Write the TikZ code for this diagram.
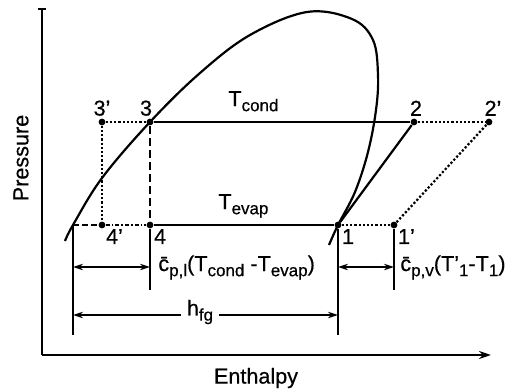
\documentclass[tikz,border=0pt]{standalone}
\usepackage{fontspec}
\setmainfont[FakeBold=0.5]{Liberation Sans}
\usetikzlibrary{arrows.meta}
\newcommand{\sbs}[1]{\raisebox{-2.6pt}{\fontsize{8.5}{9}\selectfont #1}}

\begin{document}
\begin{tikzpicture}[x=0.5pt, y=-0.5pt, font=\fontsize{10.8}{12}\selectfont,
    state/.style={circle, fill, inner sep=0pt, minimum size=3.4pt},
    lbl/.style={inner sep=1pt},
    main/.style={line width=1.1pt},
    dots/.style={line width=1.1pt, densely dotted},
    ext/.style={line width=0.8pt},
    dim/.style={ext, {Stealth[length=5pt,width=3.2pt]}-{Stealth[length=5pt,width=3.2pt]}},
    half/.style={ext, -{Stealth[length=5pt,width=3.2pt]}}]
  \useasboundingbox (0,0) rectangle (516,392);
  % axes
  \coordinate (o) at (42,355);
  \coordinate (ytop) at (42,9);
  \coordinate (xend) at (491,355);
  \draw[main] (ytop) -- (o);
  \draw[main, -{Stealth[length=6pt,width=4pt]}] (o) -- (xend);
  \draw[main] ([xshift=-1.8pt]ytop) -- ([xshift=1.8pt]ytop);
  \node[rotate=90] (ylab) at (21,158) {Pressure};
  \node (xlab) at (256,378) {Enthalpy};
  % saturation dome
  \draw[main] plot[smooth, tension=0.6] coordinates {(65,241) (73,225) (102,178)
    (150,122) (200,73) (250,35) (307,12) (352,19) (373,40) (378,75) (376,110)
    (368,152) (355,192) (338,225) (329,245)};
  % state points
  \coordinate (l) at (73,225);
  \node[state, label={[lbl]above:3'}] (p3a) at (102,122) {};
  \node[state, label={[lbl, xshift=-2pt]above:3}] (p3) at (150,122) {};
  \node[state, label={[lbl, xshift=1pt]above:2}] (p2) at (414,122) {};
  \node[state, label={[lbl, xshift=2pt]above:2'}] (p2a) at (489,122) {};
  \node[state, label={[lbl, inner sep=0.5pt]below right:4'}] (p4a) at (102,225) {};
  \node[state, label={[lbl, inner sep=0.5pt]below right:4}] (p4) at (150,225) {};
  \node[state, label={[lbl, inner sep=0.5pt]below right:1}] (p1) at (338,225) {};
  \node[state, label={[lbl, inner sep=0.5pt]below right:1'}] (p1a) at (394,225) {};
  % cycle
  \draw[main] (p3) -- (p2);
  \draw[main] (p4) -- (p1);
  \draw[main] (p1) -- (p2);
  \draw[line width=1.3pt, dash pattern=on 4pt off 2pt] (p3) -- (p4);
  \draw[dots] (p3a) -- (p3);
  \draw[dots] (p2) -- (p2a);
  \draw[dots] (p3a) -- (p4a);
  \draw[dots] (p1) -- (p1a);
  \draw[dots] (p1a) -- (p2a);
  \draw[line width=1.1pt, dash pattern=on 3pt off 1.5pt] (l) -- (p4a);
  \draw[line width=1.1pt, dash pattern=on 2pt off 1pt on 0.8pt off 1pt] (p4a) -- (p4);
  \node[anchor=base west, inner sep=0pt] (tc) at (228,106) {T\sbs{cond}};
  \node[anchor=base west, inner sep=0pt] (te) at (218,209) {T\sbs{evap}};
  % extension lines
  \draw[ext] (l) -- ++(0,110);
  \draw[ext] (p4) -- ++(0,65);
  \draw[ext] (p1) -- ++(0,110);
  \draw[ext] (p1a) -- ++(0,65);
  % dimensions
  \draw[dim] (l |- 0,267) -- (p4 |- 0,267);
  \draw[dim] (p1 |- 0,267) -- (p1a |- 0,267);
  \node[anchor=base west, inner sep=0pt] (cpl) at (158,271)
    {\={c}\sbs{p,l}(T\sbs{cond} -T\sbs{evap})};
  \node[anchor=base west, inner sep=0pt] (cpv) at (400,271)
    {\={c}\sbs{p,v}(T'\sbs{1}-T\sbs{1})};
  \node[inner sep=3pt] (hfg) at (200,312) {h\sbs{fg}};
  \draw[half] (hfg.west |- 0,315) -- (l |- 0,315);
  \draw[half] (hfg.east |- 0,315) -- (p1 |- 0,315);
\end{tikzpicture}
\end{document}
